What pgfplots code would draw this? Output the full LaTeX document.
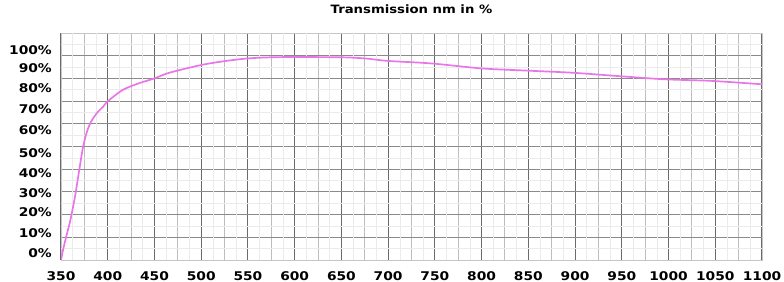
\documentclass[border=0pt]{standalone}
\usepackage{pgfplots}
\pgfplotsset{compat=1.18}
\usepackage{fontspec}
\setmainfont{DejaVu Sans}[FakeStretch=1.15]
\definecolor{curve}{RGB}{232,118,232}
\begin{document}
\begin{tikzpicture}
\path[use as bounding box] (0,0) rectangle (784bp,282bp);
\begin{axis}[
  at={(61bp,22bp)}, anchor=south west,
  scale only axis, width=701bp, height=227bp,
  xmin=350, xmax=1100, ymin=0, ymax=100,
  axis line style={draw=gray!45},
  tick style={draw=none}, major tick length=0pt, minor tick length=0pt,
  xtick={350,400,...,1100},
  xticklabels={350,400,450,500,550,600,650,700,750,800,850,900,950,1000,1050,1100},
  minor xtick={375,425,...,1075},
  ytick={3.1,11.9,21.1,29.5,38.3,47.1,57.3,66.5,75.8,84.6,92.5},
  yticklabels={0\%,10\%,20\%,30\%,40\%,50\%,60\%,70\%,80\%,90\%,100\%},
  minor ytick={10,20,...,90},
  xmajorgrids, xminorgrids, yminorgrids,
  major x grid style={draw=black!58, line width=1.1bp},
  minor x grid style={draw=black!26, line width=1bp},
  minor y grid style={draw=black!46, line width=1.1bp},
  extra x ticks={362.5,387.5,...,1087.5},
  extra x tick labels={},
  extra x tick style={grid=major, major x grid style={draw=black!8, line width=0.6bp}},
  extra y ticks={5,15,...,95},
  extra y tick labels={},
  extra y tick style={grid=major, major y grid style={draw=black!8, line width=0.6bp}},
  xticklabel style={font=\bfseries\fontsize{12bp}{12bp}\selectfont, anchor=north, inner sep=0pt, yshift=-11bp},
  yticklabel style={font=\bfseries\fontsize{12bp}{12bp}\selectfont, anchor=east, inner sep=0pt, xshift=-9bp},
  title={Transmission nm in \%},
  title style={font=\bfseries\fontsize{11.5bp}{11.5bp}\selectfont, at={(0.5,1)}, anchor=south, yshift=13bp, inner sep=0pt},
]
\addplot[curve, line width=1.7bp, smooth, tension=0.5] coordinates {
(350,0) (352.5,5) (356,11) (360,17.5) (365,28) (369.5,39.6) (373,48.5) (376,54)
(379,58) (382,60.8) (386,63.4) (390,65.5) (395,67.5) (400,69.9) (416,74.9)
(433,77.8) (450,80) (466,82.5) (500,85.9) (525,87.6) (550,88.8) (575,89.3)
(600,89.4) (650,89.3) (675,88.8) (700,87.7) (746,86.6) (800,84.4) (850,83.4)
(897,82.5) (947,81) (996,79.6) (1046,78.9) (1100,77.4)
};
\end{axis}
\end{tikzpicture}
\end{document}
